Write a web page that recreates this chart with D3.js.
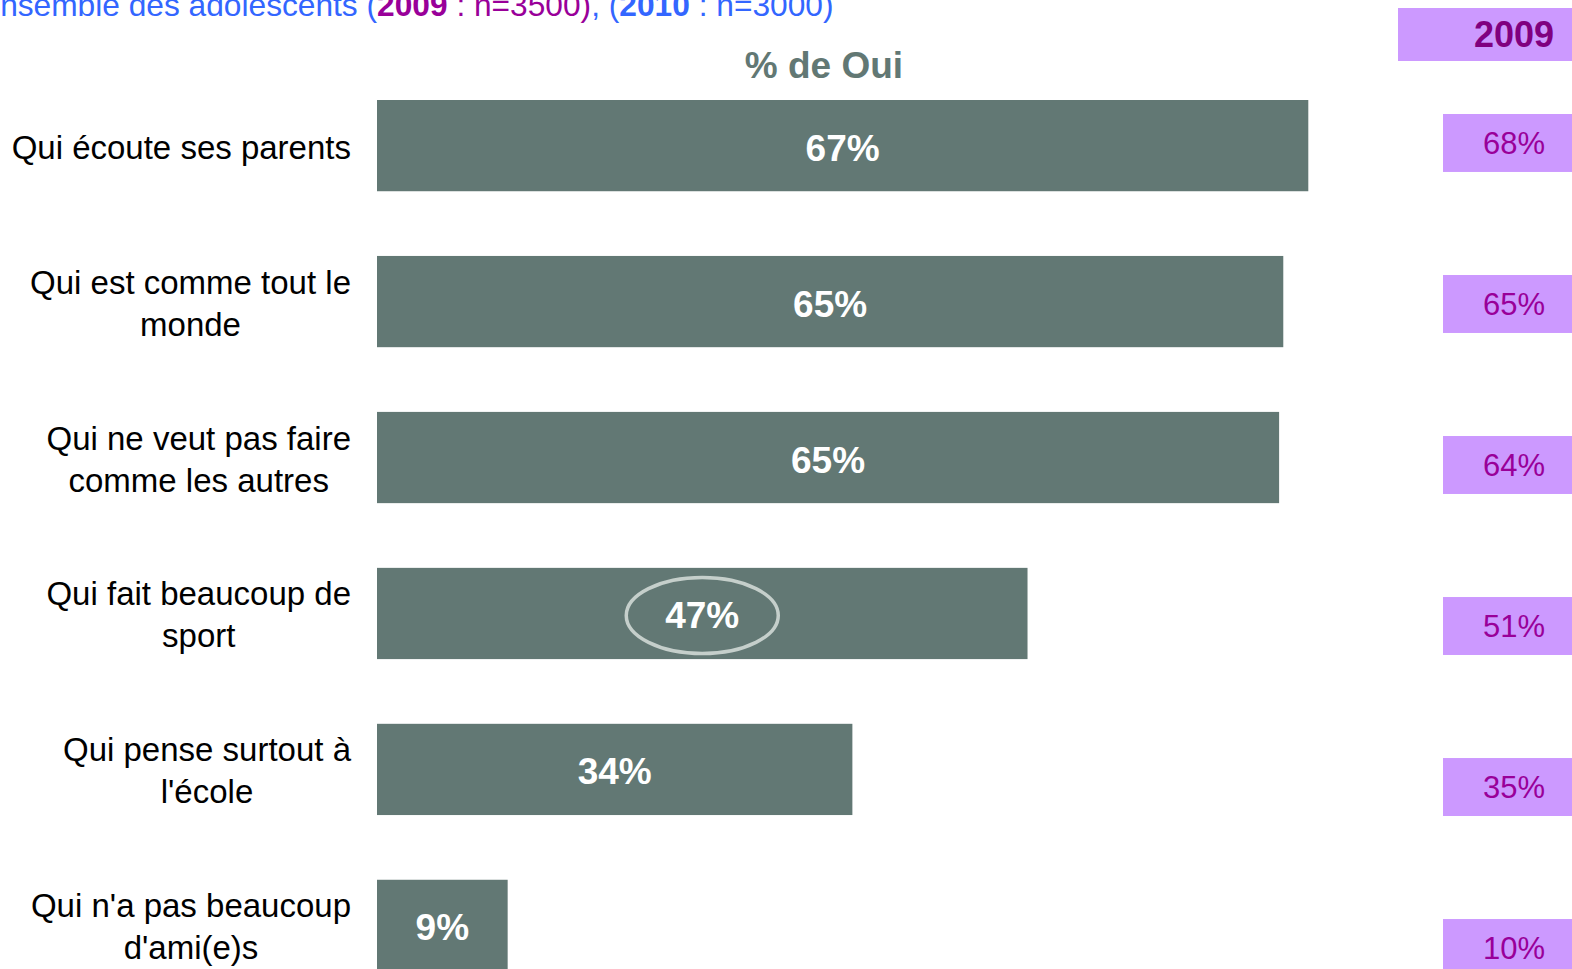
<!DOCTYPE html>
<html lang="fr">
<head>
<meta charset="UTF-8">
<title>% de Oui</title>
<script src="https://cdnjs.cloudflare.com/ajax/libs/d3/7.8.5/d3.min.js"></script>
<style>
    body { margin: 0; background: #fff; overflow: hidden; }
    svg { display: block; font-family: "Liberation Sans", Arial, sans-serif; }
</style>
</head>
<body>
<svg id="chart" width="1572" height="969"></svg>
<script>
// Data
const categories = [
    "Qui écoute ses parents",
    "Qui est comme tout le\nmonde",
    "Qui ne veut pas faire\ncomme les autres",
    "Qui fait beaucoup de\nsport",
    "Qui pense surtout à\nl'école",
    "Qui n'a pas beaucoup\nd'ami(e)s"
];
const values2010 = [67, 65.2, 64.9, 46.8, 34.2, 9.4];
const values2009 = [68, 65, 64, 51, 35, 10];
const highlighted = [3]; // circled value

const barColor = "#627874";
const boxColor = "#cc99ff";

const svg = d3.select("#chart");

// Scales
const x = d3.scaleLinear().domain([0, 100]).range([377, 1767]);
const y = d3.scaleBand().domain(d3.range(categories.length))
    .range([100, 971]).paddingInner(0.415).paddingOuter(0);
const y09 = d3.scaleBand().domain(d3.range(categories.length))
    .range([114, 977]).paddingInner(0.64).paddingOuter(0);

// Subtitle (cut off at the top left like the original)
const sub = svg.append("text")
    .attr("x", -21).attr("y", 16)
    .attr("font-size", 31.7)
    .attr("fill", "#3366ff");
sub.append("tspan").text("Ensemble des adolescents (");
sub.append("tspan").attr("fill", "#990099").attr("font-weight", "bold").text("2009");
sub.append("tspan").attr("fill", "#990099").text(" : n=3500)");
sub.append("tspan").text(", (");
sub.append("tspan").attr("font-weight", "bold").text("2010");
sub.append("tspan").text(" : n=3000)");

// Title
svg.append("text")
    .attr("x", 824).attr("y", 78)
    .attr("text-anchor", "middle")
    .attr("font-size", 37).attr("font-weight", "bold")
    .attr("fill", barColor)
    .text("% de Oui");

// Bars
const rows = svg.append("g").selectAll("g")
    .data(values2010)
    .join("g");

rows.append("rect")
    .attr("x", x(0))
    .attr("y", (d, i) => y(i))
    .attr("width", d => x(d) - x(0))
    .attr("height", y.bandwidth())
    .attr("fill", barColor);

rows.filter((d, i) => highlighted.includes(i))
    .append("ellipse")
    .attr("cx", d => (x(0) + x(d)) / 2)
    .attr("cy", y(highlighted[0]) + y.bandwidth() / 2 + 2)
    .attr("rx", 76).attr("ry", 38)
    .attr("fill", "none")
    .attr("stroke", "#c5cfcb")
    .attr("stroke-width", 3.5);

rows.append("text")
    .attr("x", d => (x(0) + x(d)) / 2)
    .attr("y", (d, i) => y(i) + y.bandwidth() / 2 + 15)
    .attr("text-anchor", "middle")
    .attr("font-size", 37).attr("font-weight", "bold")
    .attr("fill", "#fff")
    .text(d => d3.format(".0f")(d) + "%");

// Category labels: block right-aligned, lines centred
categories.forEach((c, i) => {
    const lines = c.split("\n");
    const cy = y(i) + y.bandwidth() / 2;
    const t = svg.append("text")
        .attr("font-size", 33)
        .attr("fill", "#000")
        .attr("text-anchor", "middle");
    const spans = lines.map((l, j) => t.append("tspan")
        .attr("y", cy + (j - (lines.length - 1) / 2) * 42 + 13)
        .text(l));
    const w = d3.max(spans, s => s.node().getComputedTextLength());
    spans.forEach(s => s.attr("x", 351 - w / 2));
});

// 2009 column
svg.append("rect")
    .attr("x", 1398).attr("y", 8)
    .attr("width", 180).attr("height", 53)
    .attr("fill", boxColor);
svg.append("text")
    .attr("x", 1554).attr("y", 47)
    .attr("text-anchor", "end")
    .attr("font-size", 36).attr("font-weight", "bold")
    .attr("fill", "#800080")
    .text("2009");

const box = svg.append("g").selectAll("g")
    .data(values2009)
    .join("g");
box.append("rect")
    .attr("x", 1443)
    .attr("y", (d, i) => y09(i))
    .attr("width", 140)
    .attr("height", y09.bandwidth())
    .attr("fill", boxColor);
box.append("text")
    .attr("x", 1514)
    .attr("y", (d, i) => y09(i) + y09.bandwidth() / 2 + 11)
    .attr("text-anchor", "middle")
    .attr("font-size", 31)
    .attr("fill", "#990099")
    .text(d => d + "%");
</script>
</body>
</html>
